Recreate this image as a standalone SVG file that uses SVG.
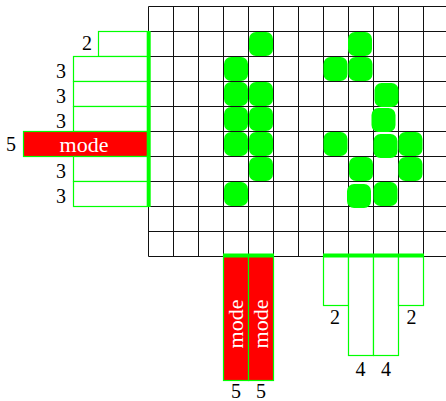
<svg xmlns="http://www.w3.org/2000/svg" width="446" height="401" viewBox="0 0 446 401">
<style>
.g{stroke:#111;stroke-width:1;fill:none}
.box{fill:#fff;stroke:#00ff00;stroke-width:1.2}
.red{fill:#ff0000;stroke:#00ff00;stroke-width:1.2}
.thick{stroke:#00ff00;stroke-width:4}
.dot{fill:#00ff00}
text{font-family:'Liberation Serif','Times New Roman',serif}
.t{font-size:20px;fill:#000}
.m{font-size:22px;fill:#fff;text-anchor:middle}
</style>
<rect width="446" height="401" fill="#fff"/>
<g id="grid" class="g">
<path d="M148.5 6.5V256.5M173.5 6.5V256.5M198.5 6.5V256.5M223.5 6.5V256.5M248.5 6.5V256.5M273.5 6.5V256.5M298.5 6.5V256.5M323.5 6.5V256.5M348.5 6.5V256.5M373.5 6.5V256.5M398.5 6.5V256.5M423.5 6.5V256.5"/>
<path d="M148.5 6.5H448M148.5 31.5H448M148.5 56.5H448M148.5 81.5H448M148.5 106.5H448M148.5 131.5H448M148.5 156.5H448M148.5 181.5H448M148.5 206.5H448M148.5 231.5H448M148.5 256.5H448"/>
</g>
<g id="row-clues">
<rect class="box" x="98.5" y="31.5" width="50" height="25"/>
<rect class="box" x="73.5" y="56.5" width="75" height="25"/>
<rect class="box" x="73.5" y="81.5" width="75" height="25"/>
<rect class="box" x="73.5" y="106.5" width="75" height="25"/>
<rect class="red" x="23.5" y="131.5" width="125" height="25"/>
<rect class="box" x="73.5" y="156.5" width="75" height="25"/>
<rect class="box" x="73.5" y="181.5" width="75" height="25"/>
<line class="thick" x1="148.7" y1="31" x2="148.7" y2="207"/>
<text class="m" x="84" y="151.5">mode</text>
<text class="t" text-anchor="end" x="92" y="50">2</text>
<text class="t" text-anchor="end" x="66" y="77.5">3</text>
<text class="t" text-anchor="end" x="66" y="102.5">3</text>
<text class="t" text-anchor="end" x="66" y="127.5">3</text>
<text class="t" text-anchor="end" x="16" y="151">5</text>
<text class="t" text-anchor="end" x="66" y="177.5">3</text>
<text class="t" text-anchor="end" x="66" y="202.5">3</text>
</g>
<g id="col-clues">
<rect class="red" x="223.5" y="256" width="25" height="124.5"/>
<rect class="red" x="248.5" y="256" width="25" height="124.5"/>
<line class="thick" x1="223" y1="255.5" x2="274" y2="255.5"/>
<text class="m" transform="translate(242.5,324) rotate(-90)">mode</text>
<text class="m" transform="translate(267.5,324) rotate(-90)">mode</text>
<rect class="box" x="323.5" y="256" width="25" height="49.5"/>
<rect class="box" x="348.5" y="256" width="25" height="99.5"/>
<rect class="box" x="373.5" y="256" width="25" height="99.5"/>
<rect class="box" x="398.5" y="256" width="25" height="49.5"/>
<line class="thick" x1="323" y1="255.5" x2="424" y2="255.5"/>
<text class="t" text-anchor="middle" x="236" y="398">5</text>
<text class="t" text-anchor="middle" x="261" y="398">5</text>
<text class="t" text-anchor="middle" x="335" y="323.5">2</text>
<text class="t" text-anchor="middle" x="360.5" y="376">4</text>
<text class="t" text-anchor="middle" x="386" y="376">4</text>
<text class="t" text-anchor="middle" x="411.5" y="323.5">2</text>
</g>
<g id="dots">
<rect class="dot" x="249" y="32" width="24" height="24" rx="7"/>
<rect class="dot" x="348" y="32" width="24" height="24" rx="7"/>
<rect class="dot" x="224" y="57" width="24" height="24" rx="7"/>
<rect class="dot" x="323.5" y="57" width="24" height="24" rx="7"/>
<rect class="dot" x="348.5" y="57" width="24" height="24" rx="7"/>
<rect class="dot" x="224" y="82" width="24" height="24" rx="7"/>
<rect class="dot" x="249" y="82" width="24" height="24" rx="7"/>
<rect class="dot" x="374.5" y="83" width="24" height="24" rx="7"/>
<rect class="dot" x="224" y="107" width="24" height="24" rx="7"/>
<rect class="dot" x="249" y="107" width="24" height="24" rx="7"/>
<rect class="dot" x="371.5" y="108" width="24" height="24" rx="7"/>
<rect class="dot" x="224" y="132" width="24" height="24" rx="7"/>
<rect class="dot" x="249" y="132" width="24" height="24" rx="7"/>
<rect class="dot" x="323.5" y="132" width="24" height="24" rx="7"/>
<rect class="dot" x="373.5" y="134" width="24" height="24" rx="7"/>
<rect class="dot" x="398.5" y="132" width="24" height="24" rx="7"/>
<rect class="dot" x="249" y="157" width="24" height="24" rx="7"/>
<rect class="dot" x="349" y="157" width="24" height="24" rx="7"/>
<rect class="dot" x="398.5" y="157" width="24" height="24" rx="7"/>
<rect class="dot" x="224" y="182" width="24" height="24" rx="7"/>
<rect class="dot" x="347" y="184" width="24" height="24" rx="7"/>
<rect class="dot" x="373.5" y="182" width="24" height="24" rx="7"/>
</g>
</svg>
